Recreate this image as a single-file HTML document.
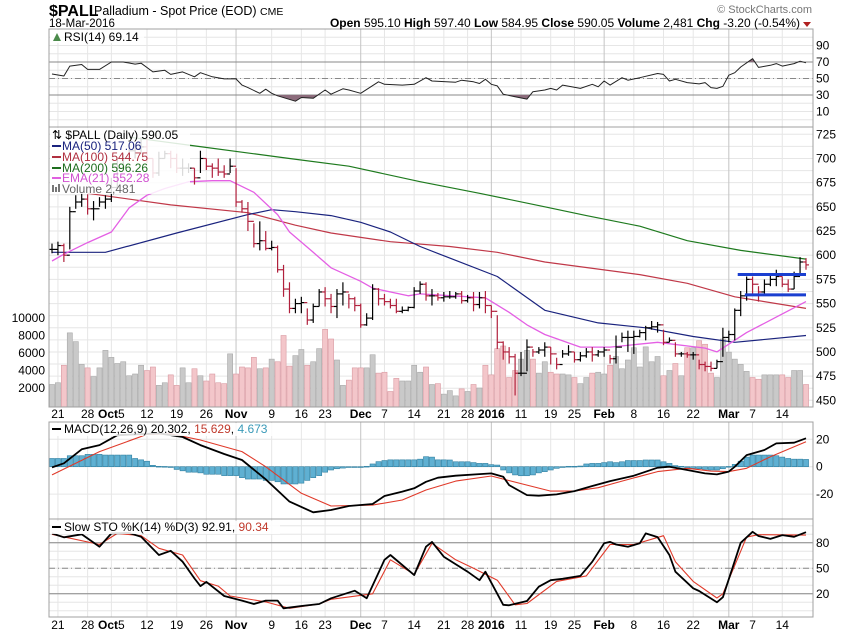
<!DOCTYPE html>
<html><head><meta charset="utf-8"><style>
html,body{margin:0;padding:0;background:#fff;}
svg{display:block;font-family:"Liberation Sans",sans-serif;}
</style></head><body>
<svg id="chart" width="850" height="633" viewBox="0 0 850 633" xmlns="http://www.w3.org/2000/svg">
<g id="grid"></g>
<g id="vol"></g>
<g id="price"></g>
<g id="ind"></g>
<g id="frames"></g>
<g id="labels"></g>
<g id="legend">
  <text x="49" y="16" font-size="16" font-weight="bold">$PALL</text>
  <text x="94" y="15" font-size="12.5">Palladium - Spot Price (EOD) <tspan font-size="10.5">CME</tspan></text>
  <text x="49" y="27" font-size="11.5">18-Mar-2016</text>
  <text x="812" y="13" font-size="11" fill="#777" text-anchor="end">© StockCharts.com</text>
  <text x="800" y="27" font-size="12" text-anchor="end"><tspan font-weight="bold">Open</tspan> 595.10  <tspan font-weight="bold">High</tspan> 597.40  <tspan font-weight="bold">Low</tspan> 584.95  <tspan font-weight="bold">Close</tspan> 590.05  <tspan font-weight="bold">Volume</tspan> 2,481  <tspan font-weight="bold">Chg</tspan> -3.20 (-0.54%)</text>
  <polygon points="803,22 811,22 807,27" fill="#b02020"/>
  <rect x="50" y="30" width="94" height="13" fill="#fff" opacity="0.85"/>
  <polygon points="53,41 57,33 61,41" fill="#4a8a4a"/>
  <text x="64" y="41" font-size="12">RSI(14) 69.14</text>
  <rect x="50" y="128" width="140" height="66" fill="#fff" opacity="0.85"/>
  <text x="52" y="139" font-size="12">⇅ $PALL (Daily) 590.05</text>
  <line x1="52" y1="146" x2="61" y2="146" stroke="#1a237e" stroke-width="2"/>
  <text x="62" y="150" font-size="12" fill="#1a237e">MA(50) 517.06</text>
  <line x1="52" y1="157" x2="61" y2="157" stroke="#b03040" stroke-width="2"/>
  <text x="62" y="161" font-size="12" fill="#b03040">MA(100) 544.75</text>
  <line x1="52" y1="168" x2="61" y2="168" stroke="#1e6e1e" stroke-width="2"/>
  <text x="62" y="172" font-size="12" fill="#1e6e1e">MA(200) 596.26</text>
  <line x1="52" y1="178" x2="61" y2="178" stroke="#e060e0" stroke-width="2"/>
  <text x="62" y="182" font-size="12" fill="#d050d0">EMA(21) 552.28</text>
  <rect x="52" y="185" width="2" height="7" fill="#777"/><rect x="55" y="187" width="2" height="5" fill="#777"/><rect x="58" y="184" width="2" height="8" fill="#777"/>
  <text x="62" y="193" font-size="12" fill="#666">Volume 2,481</text>
  <rect x="50" y="423" width="232" height="13" fill="#fff" opacity="0.85"/>
  <line x1="52" y1="429" x2="61" y2="429" stroke="#000" stroke-width="2"/>
  <text x="64" y="433" font-size="12">MACD(12,26,9) 20.302, <tspan fill="#c0392b">15.629</tspan>, <tspan fill="#3a9ab8">4.673</tspan></text>
  <rect x="50" y="521" width="230" height="13" fill="#fff" opacity="0.85"/>
  <line x1="52" y1="527" x2="61" y2="527" stroke="#000" stroke-width="2"/>
  <text x="64" y="531" font-size="12">Slow STO %K(14) %D(3) 92.91, <tspan fill="#c0392b">90.34</tspan></text>
</g>
</svg>
<script>
// ---- data ----
const hi = [612,614,612,650,662,664,663,656,660,662,680,700,705,712,715,722,722,700,707,708,708,705,700,695,690,708,700,695,700,693,700,690,657,655,633,635,625,615,610,590,572,555,557,545,550,565,567,560,565,572,560,557,550,540,570,566,560,555,555,547,547,567,573,572,565,561,562,563,562,563,559,562,562,563,548,538,511,505,498,500,513,503,505,510,505,494,502,507,500,500,504,505,502,505,497,517,520,522,522,523,527,532,531,523,515,510,500,500,500,492,490,490,492,525,522,545,563,578,578,568,575,580,585,578,575,583,598,597];
const lo = [602,600,593,606,648,650,642,636,650,648,655,670,690,698,700,705,695,680,682,700,690,685,682,685,673,685,688,680,682,680,685,650,644,625,608,605,605,605,582,557,540,540,540,528,530,547,547,540,535,548,545,542,525,527,533,548,548,545,540,540,542,545,560,553,548,553,552,555,555,550,551,542,545,540,535,503,492,488,455,475,480,495,498,495,487,482,494,496,489,490,494,490,495,495,488,488,510,500,498,515,512,523,520,507,510,495,495,494,492,482,480,480,483,495,510,512,537,553,558,552,560,568,568,567,562,565,580,585];
const cl = [606,610,600,645,655,658,648,648,655,658,670,690,700,708,710,712,700,685,700,705,700,690,690,690,680,700,692,690,686,684,692,655,648,635,612,615,607,608,585,565,545,550,551,533,547,562,555,547,560,562,555,548,528,535,565,555,552,548,542,543,546,563,570,558,558,556,557,557,560,553,556,549,556,548,542,510,500,495,478,478,505,500,502,505,498,487,498,500,492,496,500,497,500,502,493,505,515,515,516,520,525,526,528,510,512,498,498,497,497,487,485,483,490,515,518,543,558,575,570,562,570,575,578,570,565,578,593,590];
const vol = [2400,2600,4600,8300,7300,4700,4300,3300,4300,6300,5500,4800,5000,3400,3600,4600,4000,4400,2300,2600,3500,2300,4300,2600,4200,3400,2800,3600,2600,2500,5900,3600,4400,4300,5500,4200,4300,5300,5000,8000,4500,5700,6400,4600,5000,6500,8700,7600,5200,2300,2900,4300,4300,4300,5800,3700,3800,1600,3100,2800,2800,4600,3800,4400,2400,2500,1300,1700,1100,1900,1600,2400,2000,4600,3500,6500,6800,3200,4000,5300,6300,5300,3700,5000,3800,3600,3600,3500,3200,2500,3200,3700,3800,3600,4600,5600,4200,5200,6600,4400,6700,5000,5600,3400,4000,4800,3400,6600,6600,7400,7000,3700,3200,7600,6100,5300,4700,3900,3200,3000,3500,3500,3500,3500,3200,4000,4000,2400];
const ma50Day = [0,9,21,33,37,41,47,52,57,62,67,75,83,92,100,108,115,127];
const ma50Val = [603,603,623,642,647,645,641,634,624,609,597,578,543,530,525,516,510,517];
const ma100Day = [6,20,33,41,47,57,67,75,83,99,107,115,127];
const ma100Val = [664,652,644,631,623,614,609,603,593,580,571,557,545];
const ma200Day = [13,24,40,50,62,72,83,90,99,107,116,127];
const ma200Val = [722,713,700,692,676,664,650,641,630,615,605,596];
const emaDay = [0,2,6,10,13,16,19,23,27,30,34,38,40,44,47,52,54,60,62,73,77,80,83,89,94,102,110,112,117,122,127];
const emaVal = [594,601,613,624,649,662,669,676,677,677,665,642,624,603,587,573,566,558,560,556,541,528,518,505,505,510,504,500,520,536,552];
const rsiDay = [0,2,3,5,6,8,10,12,14,15,17,19,20,22,24,25,27,29,31,32,33,35,36,37,38,41,42,44,46,47,49,50,52,55,56,59,61,63,64,68,69,71,72,73,74,75,76,78,80,81,83,84,85,86,89,91,92,93,94,96,97,99,102,103,104,105,107,109,110,111,112,113,114,115,116,118,119,121,122,123,125,126,127];
const rsiVal = [55.5,53,65,67,61,61,70,70,67.5,68.5,58,60,55,58,52,57,52,49.5,49.5,42,39,32,37,32,29,22.5,27,26,36,31,37.5,36,32,46,43,42,43,51,47,45.5,48,46,44,49,43,41,31,28,25,34,36,38,36,42,38,43,40,47,42,51,48,51,56,55,47,49,45,43.5,45,39,38,40.5,54,57,64,74,63.5,66,68,65,68,71,69];
const macdDay = [0,2,5,8,11,18,22,25,29,32,36,40,44,47,50,54,56,59,61,63,65,68,72,74,76,77,80,82,85,88,91,94,98,102,104,107,110,112,114,115,117,120,122,125,127];
const macdVal = [-0.5,2.5,12.7,15.8,23,24.4,21.7,15.8,9.3,4.9,-9.2,-25.5,-33.3,-31.6,-28.7,-27.2,-21.4,-18.2,-15.8,-11,-8,-6.6,-5.4,-4.9,-7.3,-13.4,-20.7,-21.2,-20.2,-17.8,-14.1,-10.5,-6.6,-0.7,0,-2.4,-4.9,-5.6,-3.6,0,8.5,12.2,17,17.5,20.7];
const sigDay = [0,8,16,20,25,32,36,42,47,54,59,63,68,74,80,84,88,92,96,102,107,111,114,117,121,127];
const sigVal = [-6,11,23.6,24,19.5,11,0,-19.4,-28.7,-28,-24.3,-17,-10.5,-6.8,-13.4,-17.8,-17.8,-15.3,-10.5,-3.6,-1.2,-3.2,-3.6,-1.2,7.3,18.2];
const hist = [6,6,6,8,8,8,9,9,9,8.5,8.5,8.5,8.5,8.5,6,5,4,1,0.3,0.2,0,-2,-3,-4,-4,-4.5,-5.5,-5.5,-5.5,-6.5,-6.5,-6.5,-8,-9,-9,-9,-10,-10,-11,-12.6,-12.6,-12.6,-12,-10,-8,-6.5,-4,-2.4,-1.5,-1,-0.5,0,0,0.3,2,3.7,4.5,5,5,5,5,5,5.5,7.3,7,5,5,4.9,3.6,3.6,3.6,3,2.4,2.4,1.5,1.2,-2.4,-4.5,-6,-6.6,-6.6,-6,-4.5,-3.6,-2.4,-1.2,-0.3,0.3,0.3,0.5,2,2.4,2.4,3,3.6,3,3.6,4.5,4.5,4.5,4.9,4.9,4.9,3.6,2.4,0.8,0.3,-0.8,-1.2,-1.5,-2,-2.4,-2.4,-1.5,0.2,1.7,4,7,8.5,8.5,8.5,8.5,8,7,6,5.5,5.5,5.3];
const kDay = [0,2,5,8,10,13,15,18,20,22,24,25,26,29,32,34,36,38,39,42,45,47,51,53,56,57,61,63,64,66,68,70,72,73,76,77,80,82,84,86,89,91,93,94,95,97,99,100,102,104,105,108,109,112,113,116,118,119,121,123,125,127];
const kVal = [91,86.5,90,75.4,91,91.5,87,65.6,70.6,57.8,38,29,34,17.4,12,8,12,12,3,5.6,8,14.7,23.6,14.7,60,65.6,42,75.4,81,63.6,54.7,46,36,46,7,6.5,11.5,28.4,36,37.6,41,57.8,79.4,81,78,75.4,79.4,91,86.7,65.6,46,26.5,23.3,10,16,80,93,88,84.6,89,87,92.5];
const dDay = [0,8,11,15,18,22,25,28,30,36,40,45,47,54,57,61,64,68,71,75,78,80,85,90,94,98,103,105,108,112,113,117,119,127];
const dVal = [90,78,91,88.4,73.5,65.6,35.4,29,17.4,10.5,3,8,13.5,20,60,43,79.4,60,50,36,7,8.6,34.6,41,78,78,88.4,57.8,34.6,15,20,86.7,89.5,89];
const dateLabel = ["21","28","Oct5","12","19","26","Nov","9","16","23","Dec","7","14","21","28","2016","11","19","25","Feb","8","16","22","Mar","7","14"];
const dateDay = [1,6,10,16,21,26,31,37,42,46,52,56,61,66,70,74,79,84,88,93,98,103,108,114,118,123];
const monthLabel = ["Nov","Dec","2016","Feb","Mar"];
const priceTicks = [725,700,675,650,625,600,575,550,525,500,475,450];
const volTicks = [10000,8000,6000,4000,2000];
const rsiTicks = [90,70,50,30,10];
const macdTicks = [20,0,-20];
const stoTicks = [80,50,20];
const resistance = [580];
const support = [559];

// ---- scales ----
const N = cl.length;
const X0 = 52, X1 = 806;
const xi = i => X0 + i * (X1 - X0) / (N - 1);
const yP = p => 134.3 + (725 - p) * 0.9673;
const yV = v => 405.5 - v * 0.00875;
const yR = r => 78.5 - (r - 50) * 0.825;
const yM = m => 466.7 - m * 1.37;
const yS = s => 568.3 - (s - 50) * 0.85;
const NS = "http://www.w3.org/2000/svg";
function mk(tag, attrs, parent) {
  const e = document.createElementNS(NS, tag);
  for (const k in attrs) e.setAttribute(k, attrs[k]);
  parent.appendChild(e);
  return e;
}
const L = 49, R = 813;
const panels = [[29,127],[127,407],[422,519],[519,617]];
const grid = document.getElementById('grid');
const frames = document.getElementById('frames');
const labels = document.getElementById('labels');

function hgrid(y) { const l = mk('line', {x1:L, x2:R, y1:y, y2:y, stroke:'#e6e6e6', 'stroke-width':1}, grid);   }
for (let r = 0; r <= 100; r += 10) { const y = yR(r); if (y > 29 && y < 127) hgrid(y); }
priceTicks.forEach(p => hgrid(yP(p)));
for (let p = 462.5; p < 725; p += 25) hgrid(yP(p));
[40,20,0,-20,-40].forEach(m => { const y = yM(m); if (y > 422 && y < 519) hgrid(y); });
for (let s = 0; s <= 100; s += 10) { const y = yS(s); if (y > 519 && y < 617) hgrid(y); }

dateDay.forEach((d, k) => {
  const isM = monthLabel.includes(dateLabel[k]);
  panels.forEach(([t, b]) => {
    const l = mk('line', {x1:xi(d), x2:xi(d), y1:t, y2:b, stroke:isM ? '#c4c4c4' : '#e6e6e6', 'stroke-width':1}, grid);
    
    
  });
});

function refLine(y, dash) {
  const a = {x1:L, x2:R, y1:y, y2:y, stroke:'#888', 'stroke-width':1};
  if (dash) a['stroke-dasharray'] = '6,3,1,3';
  const l = mk('line', a, grid);
  
  
}
refLine(yR(70)); refLine(yR(30)); refLine(yR(50), true);
refLine(yS(80)); refLine(yS(20)); refLine(yS(50), true);

const volG = document.getElementById('vol');
const bw = (X1 - X0) / (N - 1) - 0.8;
vol.forEach((v, i) => {
  const down = i > 0 && cl[i] < cl[i - 1];
  const r = mk('rect', {x:xi(i) - bw / 2, y:yV(v), width:bw, height:yV(0) - yV(v) + 1.5, fill:down ? '#f3c6ca' : '#c9c9c9', stroke:down ? '#d99aa2' : '#a8a8a8', 'stroke-width':0.6}, volG);
  
  
});

function pline(days, vals, ys, color, w, parent, name) {
  const pts = days.map((d, k) => xi(d).toFixed(1) + ',' + ys(vals[k]).toFixed(1)).join(' ');
  const p = mk('polyline', {points:pts, fill:'none', stroke:color, 'stroke-width':w, 'stroke-linejoin':'round'}, parent);
  
  
  return pts;
}
const priceG = document.getElementById('price');
pline(ma200Day, ma200Val, yP, '#1e7a1e', 1.2, priceG, 'ma200-line');
pline(ma100Day, ma100Val, yP, '#c03848', 1.2, priceG, 'ma100-line');
pline(ma50Day, ma50Val, yP, '#1a237e', 1.2, priceG, 'ma50-line');
pline(emaDay, emaVal, yP, '#e45fe4', 1.3, priceG, 'ema21-line');

cl.forEach((c, i) => {
  const down = i > 0 && c < cl[i - 1];
  const col = down ? '#b0203c' : '#000';
  const x = xi(i);
  const g = mk('g', {stroke:col, 'stroke-width':1.2}, priceG);
  
  
  mk('line', {x1:x, x2:x, y1:yP(hi[i]), y2:yP(lo[i])}, g);
  const o = i > 0 ? cl[i - 1] : c;
  mk('line', {x1:x - 3, x2:x, y1:yP(o), y2:yP(o)}, g);
  mk('line', {x1:x, x2:x + 3, y1:yP(c), y2:yP(c)}, g);
});

resistance.forEach(p => { const l = mk('line', {x1:xi(115.5), x2:xi(127), y1:yP(p), y2:yP(p), stroke:'#1a3fd0', 'stroke-width':3}, priceG);   });
support.forEach(p => { const l = mk('line', {x1:xi(116.7), x2:xi(127), y1:yP(p), y2:yP(p), stroke:'#1a3fd0', 'stroke-width':3}, priceG);   });

const indG = document.getElementById('ind');
const defs = mk('defs', {}, indG);
const c1 = mk('clipPath', {id:'below30'}, defs); mk('rect', {x:L, y:yR(30), width:R - L, height:127 - yR(30)}, c1);
const c2 = mk('clipPath', {id:'above70'}, defs); mk('rect', {x:L, y:29, width:R - L, height:yR(70) - 29}, c2);
const rsiPts = rsiDay.map((d, k) => xi(d).toFixed(1) + ',' + yR(rsiVal[k]).toFixed(1)).join(' ');
const f1 = mk('polygon', {points:xi(rsiDay[0]) + ',' + yR(30) + ' ' + rsiPts + ' ' + xi(rsiDay[rsiDay.length - 1]) + ',' + yR(30), fill:'#8c6c7c', 'clip-path':'url(#below30)'}, indG);


const f2 = mk('polygon', {points:xi(rsiDay[0]) + ',' + yR(70) + ' ' + rsiPts + ' ' + xi(rsiDay[rsiDay.length - 1]) + ',' + yR(70), fill:'#8c6c7c', 'clip-path':'url(#above70)'}, indG);


pline(rsiDay, rsiVal, yR, '#222', 1, indG, 'rsi-line');

hist.forEach((h, i) => {
  const y0 = yM(0), y1 = yM(h);
  const r = mk('rect', {x:xi(i) - bw / 2, y:Math.min(y0, y1), width:bw, height:Math.max(Math.abs(y1 - y0), 0.8), fill:'#5fb0d2', stroke:'#2f7fa0', 'stroke-width':0.6}, indG);
  
  
});
pline(sigDay, sigVal, yM, '#e03a2a', 1.1, indG, 'macd-signal-line');
pline(macdDay, macdVal, yM, '#000', 1.8, indG, 'macd-line');

pline(dDay, dVal, yS, '#e03a2a', 1.1, indG, 'sto-d-line');
pline(kDay, kVal, yS, '#000', 1.8, indG, 'sto-k-line');

panels.forEach(([t, b]) => {
  const r = mk('rect', {x:L, y:t, width:R - L, height:b - t, fill:'none', stroke:'#a0a0a0', 'stroke-width':1}, frames);
  
  
});

function txt(x, y, s, anchor, extra, name) {
  const t = mk('text', Object.assign({x:x, y:y, 'font-size':12, 'text-anchor':anchor}, extra || {}), labels);
  t.textContent = s;
  
  
  return t;
}
rsiTicks.forEach(r => txt(816, yR(r) + 4, String(r), 'start', {}, 'rsi-tick-label'));
priceTicks.forEach(p => txt(816, yP(p) + 4, String(p), 'start', {}, 'price-tick-label'));
volTicks.forEach(v => txt(45, yV(v) + 4, String(v), 'end', {}, 'volume-tick-label'));
macdTicks.forEach(m => txt(816, yM(m) + 4, String(m), 'start', {}, 'macd-tick-label'));
stoTicks.forEach(s => txt(816, yS(s) + 4, String(s), 'start', {}, 'sto-tick-label'));
[418, 629].forEach(yy => {
  dateLabel.forEach((s, k) => {
    const bold = monthLabel.includes(s);
    if (s === 'Oct5') {
      const t = txt(xi(dateDay[k]), yy, '', 'middle', {}, 'date-label');
      const a = document.createElementNS(NS, 'tspan'); a.setAttribute('font-weight', 'bold'); a.textContent = 'Oct'; t.appendChild(a);
      const b = document.createElementNS(NS, 'tspan'); b.textContent = '5'; t.appendChild(b);
    } else {
      txt(xi(dateDay[k]), yy, s, 'middle', bold ? {'font-weight':'bold'} : {}, 'date-label');
    }
  });
});
</script>
</body></html>
